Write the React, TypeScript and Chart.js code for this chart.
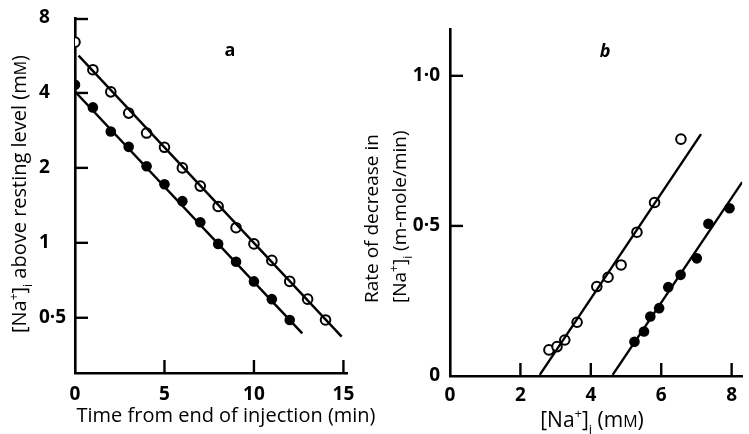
import React, { useEffect, useRef } from 'react';
import { Chart, registerables } from 'chart.js';

Chart.register(...registerables);

const FONT = '"Open Sans", Lato, sans-serif';

// ---- Panel a: time course (log scale) ----
const timeOpen = [0, 1, 2, 3, 4, 5, 6, 7, 8, 9, 10, 11, 12, 13, 14];
const naOpen = [6.4, 4.96, 4.04, 3.32, 2.76, 2.42, 2.0, 1.69, 1.4, 1.15, 0.99, 0.85, 0.7, 0.594, 0.49];
const timeFilled = [0, 1, 2, 3, 4, 5, 6, 7, 8, 9, 10, 11, 12];
const naFilled = [4.31, 3.5, 2.8, 2.43, 2.03, 1.72, 1.47, 1.21, 0.99, 0.84, 0.7, 0.594, 0.49];
const fitOpenT = [0.2, 14.9];
const fitOpenNa = [5.65, 0.42];
const fitFilledT = [0, 12.7];
const fitFilledNa = [4.05, 0.433];
const aXTicks = [0, 5, 10, 15];
const aYTicks = [0.5, 1, 2, 4, 8];
const aYTickLabels = ['0·5', '1', '2', '4', '8'];

// ---- Panel b: rate vs [Na+]i ----
const bNaOpen = [2.81, 3.04, 3.26, 3.61, 4.17, 4.49, 4.86, 5.31, 5.81, 6.56];
const bRateOpen = [0.087, 0.098, 0.12, 0.179, 0.298, 0.329, 0.37, 0.479, 0.578, 0.789];
const bNaFilled = [5.24, 5.51, 5.69, 5.94, 6.2, 6.55, 7.01, 7.34, 7.94];
const bRateFilled = [0.114, 0.148, 0.198, 0.226, 0.296, 0.337, 0.392, 0.507, 0.559];
const bFitOpenNa = [2.55, 7.13];
const bFitOpenRate = [0.004, 0.806];
const bFitFilledNa = [4.62, 8.3];
const bFitFilledRate = [0.004, 0.646];
const bXTicks = [0, 2, 4, 6, 8];
const bYTicks = [0, 0.5, 1.0];
const bYTickLabels = ['0', '0·5', '1·0'];

type Seg = { t: string; k?: number; dy?: number };

const NA_I: Seg[] = [
  { t: '[Na' },
  { t: '+', k: 0.62, dy: -0.42 },
  { t: ']' },
  { t: 'i', k: 0.62, dy: 0.32 },
];

function drawRich(
  ctx: CanvasRenderingContext2D,
  segs: Seg[],
  x: number,
  y: number,
  size: number,
  align: 'left' | 'center',
  rotate: boolean,
  weight = '500',
  style = 'normal'
) {
  ctx.save();
  ctx.translate(x, y);
  if (rotate) ctx.rotate(-Math.PI / 2);
  ctx.fillStyle = '#000';
  ctx.textBaseline = 'alphabetic';
  ctx.textAlign = 'left';
  const fontFor = (s: Seg) => `${style} ${weight} ${Math.round(size * (s.k || 1))}px ${FONT}`;
  let total = 0;
  segs.forEach((s) => {
    ctx.font = fontFor(s);
    total += ctx.measureText(s.t).width;
  });
  let cx = align === 'center' ? -total / 2 : 0;
  segs.forEach((s) => {
    ctx.font = fontFor(s);
    ctx.fillText(s.t, cx, (s.dy || 0) * size);
    cx += ctx.measureText(s.t).width;
  });
  ctx.restore();
}

const inwardTicks = {
  id: 'inwardTicks',
  afterDraw(chart: any) {
    const ctx = chart.ctx as CanvasRenderingContext2D;
    const { x, y } = chart.scales;
    const ca = chart.chartArea;
    const L = 13;
    ctx.save();
    ctx.strokeStyle = '#000';
    ctx.lineWidth = 2.4;
    ctx.lineCap = 'butt';
    x.ticks.forEach((t: any) => {
      const px = x.getPixelForValue(t.value);
      if (Math.abs(px - ca.left) < 2) return;
      ctx.beginPath();
      ctx.moveTo(px, ca.bottom);
      ctx.lineTo(px, ca.bottom - L);
      ctx.stroke();
    });
    y.ticks.forEach((t: any) => {
      let py = y.getPixelForValue(t.value);
      if (Math.abs(py - ca.bottom) < 2) return;
      if (!isFinite(py)) return;
      py = Math.max(py, ca.top + 1);
      ctx.beginPath();
      ctx.moveTo(ca.left - 1, py);
      ctx.lineTo(ca.left + L, py);
      ctx.stroke();
    });
    ctx.restore();
  },
};

const textA = {
  id: 'textA',
  afterDraw(chart: any) {
    const ctx = chart.ctx as CanvasRenderingContext2D;
    const ca = chart.chartArea;
    drawRich(ctx, [{ t: 'a' }], ca.left + 155, ca.top + 38, 18, 'center', false, 'bold');
    drawRich(ctx, [{ t: 'Time from end of injection (min)' }], ca.left + 151, 422, 20, 'center', false);
    drawRich(
      ctx,
      [...NA_I, { t: ' above resting level (m' }, { t: 'M', k: 0.78 }, { t: ')' }],
      26,
      ca.top + 176,
      20,
      'center',
      true
    );
  },
};

const textB = {
  id: 'textB',
  afterDraw(chart: any) {
    const ctx = chart.ctx as CanvasRenderingContext2D;
    const ca = chart.chartArea;
    drawRich(ctx, [{ t: 'b' }], ca.left + 155, ca.top + 28, 18, 'center', false, 'bold', 'italic');
    drawRich(ctx, [...NA_I, { t: ' (m' }, { t: 'M', k: 0.78 }, { t: ')' }], ca.left + 142, 427, 21, 'center', false);
    drawRich(ctx, [{ t: 'Rate of decrease in' }], ca.left - 72, 303, 19, 'left', true);
    drawRich(ctx, [...NA_I, { t: ' (m-mole/min)' }], ca.left - 44, 303, 19, 'left', true);
  },
};

function pts(xs: number[], ys: number[]) {
  return xs.map((v, i) => ({ x: v, y: ys[i] }));
}

const openStyle = {
  showLine: false,
  pointRadius: 4.8,
  pointBackgroundColor: '#fff',
  pointBorderColor: '#000',
  pointBorderWidth: 2,
};
const filledStyle = {
  showLine: false,
  pointRadius: 5.3,
  pointBackgroundColor: '#000',
  pointBorderColor: '#000',
  pointBorderWidth: 0,
};
const fitStyle = {
  showLine: true,
  borderColor: '#000',
  borderWidth: 2.4,
  pointRadius: 0,
  fill: false,
};

export default function App() {
  const refA = useRef<HTMLCanvasElement>(null);
  const refB = useRef<HTMLCanvasElement>(null);

  useEffect(() => {
    const tickFont = { family: FONT, size: 19, weight: 'bold' as any };
    const chartA = new Chart(refA.current!, {
      type: 'scatter',
      data: {
        datasets: [
          { ...fitStyle, data: pts(fitOpenT, fitOpenNa) },
          { ...fitStyle, data: pts(fitFilledT, fitFilledNa) },
          { ...openStyle, data: pts(timeOpen, naOpen) },
          { ...filledStyle, data: pts(timeFilled, naFilled) },
        ],
      },
      options: {
        animation: false,
        responsive: false,
        layout: { padding: { left: 39, top: 18, right: 33, bottom: 0 } },
        plugins: { legend: { display: false }, tooltip: { enabled: false } },
        scales: {
          x: {
            type: 'linear',
            min: 0,
            max: 15.2,
            afterBuildTicks: (s: any) => {
              s.ticks = aXTicks.map((v) => ({ value: v }));
            },
            afterFit: (s: any) => {
              s.height = 61;
            },
            grid: { display: false, drawTicks: false },
            border: { display: true, color: '#000', width: 2.6 },
            ticks: { color: '#000', font: tickFont, padding: 10, maxRotation: 0, autoSkip: false, callback: (v: any) => String(v) },
          },
          y: {
            type: 'logarithmic',
            min: 0.307,
            max: 8,
            afterBuildTicks: (s: any) => {
              s.ticks = aYTicks.map((v) => ({ value: v }));
            },
            afterFit: (s: any) => {
              s.width = 36;
            },
            grid: { display: false, drawTicks: false },
            border: { display: true, color: '#000', width: 2.6 },
            ticks: {
              color: '#000',
              font: tickFont,
              crossAlign: 'far',
              autoSkip: false,
              callback: (v: any) => aYTickLabels[aYTicks.indexOf(v)] ?? '',
            },
          },
        },
      },
      plugins: [inwardTicks, textA],
    });

    const chartB = new Chart(refB.current!, {
      type: 'scatter',
      data: {
        datasets: [
          { ...fitStyle, data: pts(bFitOpenNa, bFitOpenRate) },
          { ...fitStyle, data: pts(bFitFilledNa, bFitFilledRate) },
          { ...openStyle, data: pts(bNaOpen, bRateOpen) },
          { ...filledStyle, data: pts(bNaFilled, bRateFilled) },
        ],
      },
      options: {
        animation: false,
        responsive: false,
        layout: { padding: { left: 0, top: 29, right: 0, bottom: 0 } },
        plugins: { legend: { display: false }, tooltip: { enabled: false } },
        scales: {
          x: {
            type: 'linear',
            min: 0,
            max: 8.3,
            afterBuildTicks: (s: any) => {
              s.ticks = bXTicks.map((v) => ({ value: v }));
            },
            afterFit: (s: any) => {
              s.height = 58;
            },
            grid: { display: false, drawTicks: false },
            border: { display: true, color: '#000', width: 2.6 },
            ticks: { color: '#000', font: tickFont, padding: 8, maxRotation: 0, autoSkip: false, callback: (v: any) => String(v) },
          },
          y: {
            type: 'linear',
            min: 0,
            max: 1.156,
            afterBuildTicks: (s: any) => {
              s.ticks = bYTicks.map((v) => ({ value: v }));
            },
            afterFit: (s: any) => {
              s.width = 95;
            },
            grid: { display: false, drawTicks: false },
            border: { display: true, color: '#000', width: 2.6 },
            ticks: {
              color: '#000',
              font: tickFont,
              padding: 10,
              autoSkip: false,
              callback: (v: any) => bYTickLabels[bYTicks.indexOf(v)] ?? '',
            },
          },
        },
      },
      plugins: [inwardTicks, textB],
    });

    return () => {
      chartA.destroy();
      chartB.destroy();
    };
  }, []);

  return (
    <div style={{ position: 'absolute', left: 0, top: 0, width: 749, height: 434, background: '#fff' }}>
      <canvas ref={refA} width={380} height={434} style={{ position: 'absolute', left: 0, top: 0 }} />
      <canvas ref={refB} width={394} height={434} style={{ position: 'absolute', left: 355, top: 0 }} />
    </div>
  );
}
